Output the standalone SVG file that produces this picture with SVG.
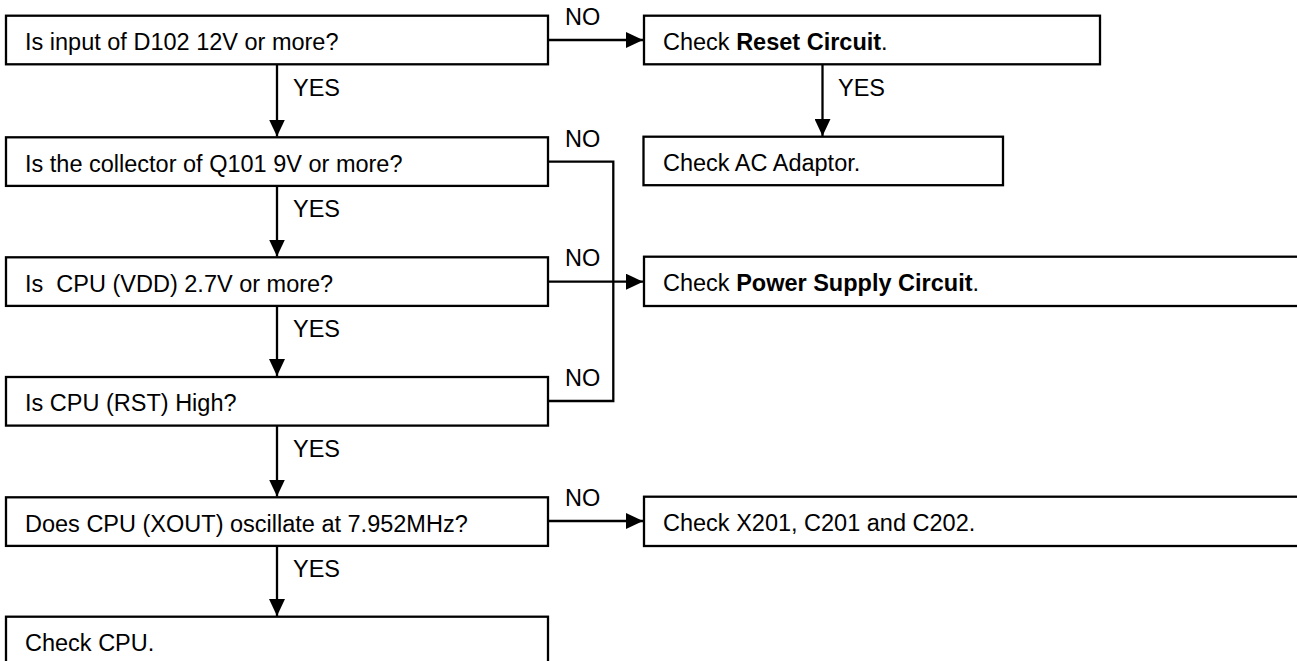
<svg xmlns="http://www.w3.org/2000/svg" width="1297" height="661" viewBox="0 0 1297 661">
<style>
.box{fill:#fff;stroke:#000;stroke-width:2.3}
.t{font-family:"Liberation Sans",Arial,sans-serif;font-size:23.5px;fill:#000;white-space:pre}
.b{font-weight:bold}
.ln{fill:none;stroke:#000;stroke-width:2.3}
</style>
<defs>
<marker id="ah" markerUnits="userSpaceOnUse" markerWidth="17" markerHeight="16" refX="17" refY="8" orient="auto" viewBox="0 0 17 16">
<path d="M0,0 L17,8 L0,16 z" fill="#000"/>
</marker>
</defs>
<rect width="1297" height="661" fill="#fff"/>
<g id="connectors">
<path class="ln" d="M548,40 H643" marker-end="url(#ah)"/>
<path class="ln" d="M277,64.3 V136.5" marker-end="url(#ah)"/>
<path class="ln" d="M822.5,64.3 V136" marker-end="url(#ah)"/>
<path class="ln" d="M548,161.7 H613.3 V401 H548"/>
<path class="ln" d="M277,186 V256.5" marker-end="url(#ah)"/>
<path class="ln" d="M548,281.7 H643" marker-end="url(#ah)"/>
<path class="ln" d="M277,306 V376" marker-end="url(#ah)"/>
<path class="ln" d="M277,425.7 V496.5" marker-end="url(#ah)"/>
<path class="ln" d="M548,521 H643" marker-end="url(#ah)"/>
<path class="ln" d="M277,546 V616" marker-end="url(#ah)"/>
<text class="t" x="565" y="25">NO</text>
<text class="t" x="565" y="146.7">NO</text>
<text class="t" x="565" y="266">NO</text>
<text class="t" x="565" y="386">NO</text>
<text class="t" x="565" y="506">NO</text>
<text class="t" x="293" y="95.5">YES</text>
<text class="t" x="838" y="95.5">YES</text>
<text class="t" x="293" y="217">YES</text>
<text class="t" x="293" y="337">YES</text>
<text class="t" x="293" y="457">YES</text>
<text class="t" x="293" y="577">YES</text>
</g>
<g id="q1"><rect class="box" x="6" y="15.7" width="542" height="48.6"/><text class="t" x="25" y="50">Is input of D102 12V or more?</text></g>
<g id="q2"><rect class="box" x="6" y="137.3" width="542" height="48.6"/><text class="t" x="25" y="171.7">Is the collector of Q101 9V or more?</text></g>
<g id="q3"><rect class="box" x="6" y="257.3" width="542" height="48.6"/><text class="t" x="25" y="291.7">Is  CPU (VDD) 2.7V or more?</text></g>
<g id="q4"><rect class="box" x="6" y="377" width="542" height="48.6"/><text class="t" x="25" y="411.4">Is CPU (RST) High?</text></g>
<g id="q5"><rect class="box" x="6" y="497.3" width="542" height="48.6"/><text class="t" x="25" y="531.7">Does CPU (XOUT) oscillate at 7.952MHz?</text></g>
<g id="end"><rect class="box" x="6" y="616.7" width="542" height="60"/><text class="t" x="25" y="651">Check CPU.</text></g>
<g id="reset"><rect class="box" x="644" y="15.7" width="456" height="48.6"/><text class="t" x="663" y="50">Check <tspan class="b">Reset Circuit</tspan>.</text></g>
<g id="ac"><rect class="box" x="643.5" y="136.7" width="359.5" height="48.5"/><text class="t" x="663" y="171">Check AC Adaptor.</text></g>
<g id="power"><rect class="box" x="644" y="256.7" width="700" height="49.3"/><text class="t" x="663" y="291">Check <tspan class="b">Power Supply Circuit</tspan>.</text></g>
<g id="xtal"><rect class="box" x="644" y="496.7" width="700" height="49.3"/><text class="t" x="663" y="531">Check X201, C201 and C202.</text></g>
</svg>
